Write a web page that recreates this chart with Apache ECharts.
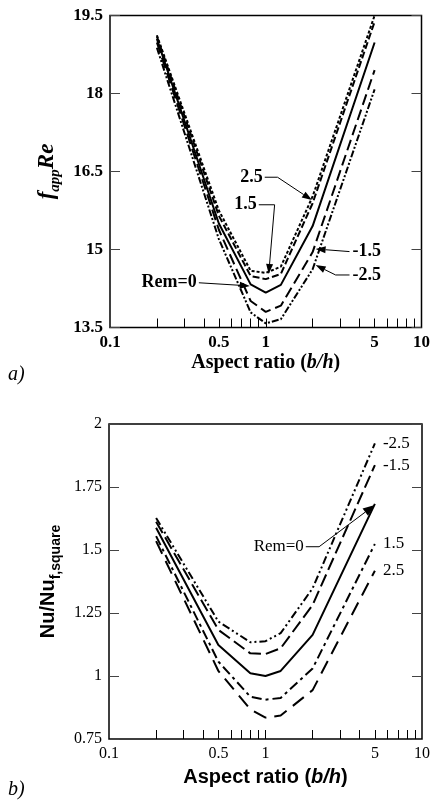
<!DOCTYPE html>
<html>
<head>
<meta charset="utf-8">
<script src="https://cdn.jsdelivr.net/npm/echarts@6/dist/echarts.min.js"></script>
<style>
html,body{margin:0;padding:0;background:#fff}
#main{width:433px;height:806px}
</style>
</head>
<body>
<div id="main"></div>
<script>
// aspect ratios (b/h) where the curves have their points
var aspect = [0.2, 0.5, 0.8, 1, 1.25, 2, 5];
var remNames = ['2.5', '1.5', '0', '-1.5', '-2.5'];

// a) fapp*Re, one array per Rem
var fRe_p25 = [19.12, 15.75, 14.59, 14.55, 14.67, 16.02, 19.5];
var fRe_p15 = [19.10, 15.65, 14.49, 14.43, 14.53, 15.89, 19.38];
var fRe_0   = [19.05, 15.50, 14.33, 14.17, 14.32, 15.45, 18.98];
var fRe_m15 = [18.98, 15.38, 14.01, 13.80, 13.92, 14.95, 18.45];
var fRe_m25 = [18.88, 15.20, 13.79, 13.58, 13.66, 14.62, 18.08];

// b) Nu/Nu_f,square
var nu_p25 = [1.535, 1.020, 0.868, 0.835, 0.843, 0.944, 1.418];
var nu_p15 = [1.555, 1.057, 0.918, 0.906, 0.913, 1.030, 1.524];
var nu_0   = [1.588, 1.123, 1.011, 1.000, 1.020, 1.163, 1.683];
var nu_m15 = [1.612, 1.183, 1.090, 1.087, 1.110, 1.282, 1.837];
var nu_m25 = [1.627, 1.216, 1.134, 1.138, 1.170, 1.348, 1.923];

var xLabels = [0.1, 0.5, 1, 5, 10];
var xTicks = [0.2, 0.3, 0.4, 0.5, 0.6, 0.7, 0.8, 0.9, 1, 2, 3, 4, 5, 6, 7, 8, 9];

var chart = echarts.init(document.getElementById('main'));

var serif = 'Liberation Serif';
var sans = 'Liberation Sans';

function pairs(ys) {
	var out = [];
	for (var i = 0; i < aspect.length; i++) out.push([aspect[i], ys[i]]);
	return out;
}

// dash patterns per Rem, top and bottom panel
var dashTop = {'2.5': [3, 2], '1.5': [7, 3], '0': 'solid', '-1.5': [11, 5], '-2.5': [7, 2, 2, 2, 2, 2]};
var dashBot = {'2.5': [14, 8], '1.5': [10, 4, 3, 4], '0': 'solid', '-1.5': [13, 5], '-2.5': [8, 3, 2, 3, 2, 3]};

var topData = {'2.5': fRe_p25, '1.5': fRe_p15, '0': fRe_0, '-1.5': fRe_m15, '-2.5': fRe_m25};
var botData = {'2.5': nu_p25, '1.5': nu_p15, '0': nu_0, '-1.5': nu_m15, '-2.5': nu_m25};

var series = [];
remNames.forEach(function(n) {
	series.push({
		name: 'a' + n, type: 'line', xAxisIndex: 0, yAxisIndex: 0,
		data: pairs(topData[n]), symbol: 'none', silent: true,
		lineStyle: {color: '#000', width: 2, type: dashTop[n]}
	});
});
remNames.forEach(function(n) {
	series.push({
		name: 'b' + n, type: 'line', xAxisIndex: 1, yAxisIndex: 2,
		data: pairs(botData[n]), symbol: 'none', silent: true,
		lineStyle: {color: '#000', width: 2, type: dashBot[n]},
		endLabel: {
			show: n !== '0', formatter: n, distance: 8,
			fontFamily: serif, fontSize: 17, color: '#000'
		}
	});
});

function xAxisCfg(grid, bold, nameFont, nameSize, gap) {
	return {
		type: 'log', logBase: 10, gridIndex: grid, min: 0.1, max: 10,
		axisLine: {show: false}, splitLine: {show: false},
		axisTick: {show: true, inside: true, length: 9, customValues: xTicks, lineStyle: {color: '#000', width: 1}},
		minorTick: {show: false},
		axisLabel: {
			customValues: xLabels, margin: 7,
			formatter: function(v) { return String(+(+v).toPrecision(3)); },
			fontFamily: serif, fontWeight: bold ? 'bold' : 'normal', fontSize: bold ? 17 : 16, color: '#000'
		},
		name: '{n|Aspect ratio (}{i|b/h}{n|)}',
		nameLocation: 'middle', nameGap: gap,
		nameTextStyle: {
			rich: {
				n: {fontFamily: nameFont, fontWeight: 'bold', fontSize: nameSize, color: '#000'},
				i: {fontFamily: nameFont, fontWeight: 'bold', fontStyle: 'italic', fontSize: nameSize, color: '#000'}
			}
		}
	};
}

function yAxisCfg(grid, min, max, step, right, bold) {
	return {
		type: 'value', gridIndex: grid, min: min, max: max, interval: step,
		position: right ? 'right' : 'left',
		axisLine: {show: false}, splitLine: {show: false},
		axisTick: {show: true, inside: true, length: 10, lineStyle: {color: '#444', width: 1}},
		axisLabel: {
			show: !right, margin: 7, fontFamily: serif, fontWeight: bold ? 'bold' : 'normal',
			fontSize: bold ? 17 : 16, color: '#000'
		}
	};
}

var yTopL = yAxisCfg(0, 13.5, 19.5, 1.5, false, true);
yTopL.name = '{f|f}{s|app}{f|Re}';
yTopL.nameLocation = 'middle';
yTopL.nameGap = 48;
yTopL.nameTextStyle = {
	rich: {
		f: {fontFamily: serif, fontWeight: 'bold', fontStyle: 'italic', fontSize: 23, color: '#000', lineHeight: 28, verticalAlign: 'bottom'},
		s: {fontFamily: serif, fontWeight: 'bold', fontStyle: 'italic', fontSize: 15, color: '#000', lineHeight: 28, verticalAlign: 'bottom', padding: [0, 0, -4, 0]}
	}
};
var yBotL = yAxisCfg(1, 0.75, 2, 0.25, false, false);
yBotL.axisLabel.formatter = function(v) { return String(+v.toFixed(2)); };
yBotL.name = '{n|Nu/Nu}{s|f,square}';
yBotL.nameLocation = 'middle';
yBotL.nameGap = 47;
yBotL.nameTextStyle = {
	rich: {
		n: {fontFamily: sans, fontWeight: 'bold', fontSize: 20, color: '#000', lineHeight: 26, verticalAlign: 'bottom'},
		s: {fontFamily: sans, fontWeight: 'bold', fontSize: 14, color: '#000', lineHeight: 26, verticalAlign: 'bottom', padding: [0, 0, -5, 0]}
	}
};

chart.setOption({
	animation: false,
	backgroundColor: '#fff',
	grid: [
		{left: 110, right: 9, top: 15.5, height: 312, show: true, borderColor: '#000', borderWidth: 1.5, backgroundColor: 'transparent'},
		{left: 109, right: 9, top: 424, height: 315, show: true, borderColor: '#000', borderWidth: 1.5, backgroundColor: 'transparent'}
	],
	xAxis: [xAxisCfg(0, true, serif, 20, 25), xAxisCfg(1, false, sans, 20, 28)],
	yAxis: [yTopL, yAxisCfg(0, 13.5, 19.5, 1.5, true, true), yBotL, yAxisCfg(1, 0.75, 2, 0.25, true, false)],
	series: series
});

// arrows with label: points in data coords, text at the first point
var notes = [
	{grid: 0, text: '2.5', side: 'left', bold: true, pts: [[0.985, 16.39], [1.19, 16.39], [1.98, 15.95]]},
	{grid: 0, text: '1.5', side: 'left', bold: true, pts: [[0.902, 15.86], [1.14, 15.86], [1.045, 14.53]]},
	{grid: 0, text: 'Rem=0', side: 'left', bold: true, pts: [[0.372, 14.36], [0.79, 14.30]]},
	{grid: 0, text: '-1.5', side: 'right', bold: true, pts: [[3.45, 14.96], [2.09, 15.01]]},
	{grid: 0, text: '-2.5', side: 'right', bold: true, pts: [[3.45, 14.51], [2.81, 14.51], [2.09, 14.70]]},
	{grid: 1, text: 'Rem=0', side: 'left', bold: false, pts: [[1.81, 1.513], [2.2, 1.513], [5.0, 1.679]]}
];

var gfx = [];
notes.forEach(function(a) {
	var xa = a.grid, ya = a.grid === 0 ? 0 : 2;
	var p = a.pts.map(function(d) { return chart.convertToPixel({xAxisIndex: xa, yAxisIndex: ya}, d); });
	var n = p.length;
	var tip = p[n - 1], prev = p[n - 2];
	var dx = tip[0] - prev[0], dy = tip[1] - prev[1];
	var len = Math.sqrt(dx * dx + dy * dy);
	dx /= len; dy /= len;
	var hl = a.grid === 0 ? 10 : 12, hw = a.grid === 0 ? 3.5 : 4.5;
	var bx = tip[0] - dx * hl, by = tip[1] - dy * hl;
	var line = p.slice(0, n - 1).concat([[bx, by]]);
	gfx.push({type: 'polyline', shape: {points: line}, style: {stroke: '#000', lineWidth: 1, fill: null}, silent: true});
	gfx.push({type: 'polygon', shape: {points: [tip, [bx - dy * hw, by + dx * hw], [bx + dy * hw, by - dx * hw]]}, style: {fill: '#000'}, silent: true});
	gfx.push({
		type: 'text', x: p[0][0] + (a.side === 'left' ? -2 : 3), y: p[0][1], silent: true,
		style: {
			text: a.text, fill: '#000', font: (a.bold ? 'bold 18px "' : '17px "') + serif + '"',
			align: a.side === 'left' ? 'right' : 'left', verticalAlign: 'middle'
		}
	});
});
gfx.push({type: 'text', x: 8, y: 375, style: {text: 'a)', fill: '#000', font: 'italic 20px "' + serif + '"', verticalAlign: 'middle'}});
gfx.push({type: 'text', x: 8, y: 790, style: {text: 'b)', fill: '#000', font: 'italic 20px "' + serif + '"', verticalAlign: 'middle'}});
chart.setOption({graphic: gfx});
</script>
</body>
</html>
